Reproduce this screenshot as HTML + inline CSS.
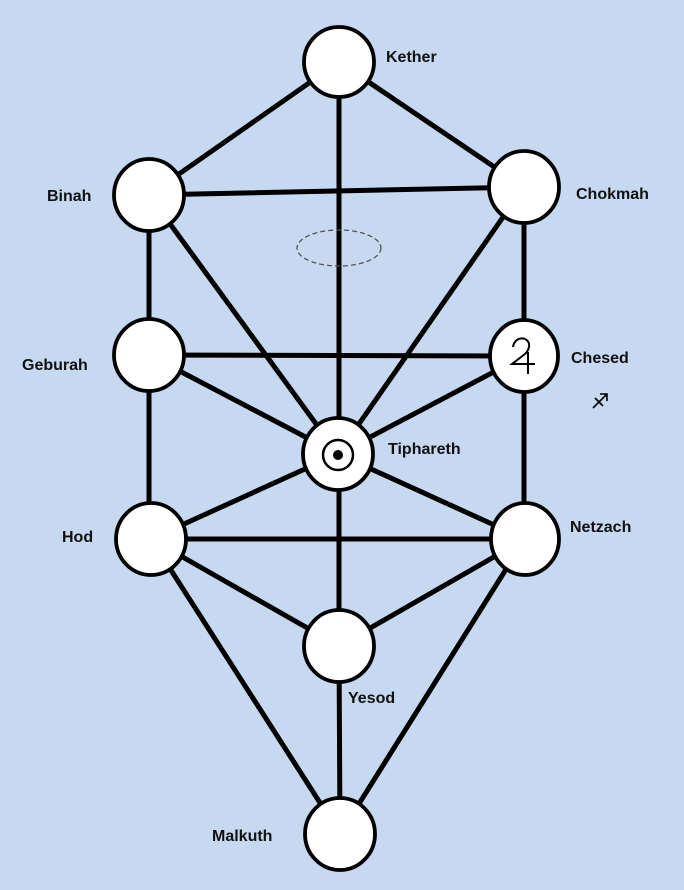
<!DOCTYPE html>
<html><head><meta charset="utf-8"><style>
html,body{margin:0;padding:0;background:#c6d9f0;}
svg{display:block}
text{font-family:"Liberation Sans",sans-serif;font-weight:bold;font-size:16px;fill:#111;}
</style></head><body>
<svg width="684" height="890" viewBox="0 0 684 890">
<rect width="684" height="890" fill="#c6d9f0"/>
<g stroke="#000" stroke-width="5" stroke-linecap="round">
<line x1="339" y1="62" x2="149" y2="195"/>
<line x1="339" y1="62" x2="524" y2="187"/>
<line x1="339" y1="62" x2="339" y2="646"/>
<line x1="149" y1="195" x2="524" y2="187"/>
<line x1="149" y1="195" x2="149" y2="539"/>
<line x1="524" y1="187" x2="524" y2="539"/>
<line x1="149" y1="195" x2="338" y2="454"/>
<line x1="524" y1="187" x2="338" y2="454"/>
<line x1="149" y1="355" x2="524" y2="356"/>
<line x1="149" y1="355" x2="338" y2="454"/>
<line x1="524" y1="356" x2="338" y2="454"/>
<line x1="338" y1="454" x2="151" y2="539"/>
<line x1="338" y1="454" x2="525" y2="539"/>
<line x1="151" y1="539" x2="525" y2="539"/>
<line x1="151" y1="539" x2="339" y2="646"/>
<line x1="525" y1="539" x2="339" y2="646"/>
<line x1="151" y1="539" x2="340" y2="834"/>
<line x1="525" y1="539" x2="340" y2="834"/>
<line x1="339" y1="646" x2="340" y2="834"/>
</g>
<ellipse cx="339" cy="248" rx="42" ry="18" fill="none" stroke="#555" stroke-width="1.3" stroke-dasharray="5,3"/>
<g fill="#fff" stroke="#000" stroke-width="3.8">
<ellipse cx="339" cy="62" rx="35" ry="35"/>
<ellipse cx="149" cy="195" rx="35" ry="36"/>
<ellipse cx="524" cy="187" rx="35" ry="36"/>
<ellipse cx="149" cy="355" rx="35" ry="36"/>
<ellipse cx="524" cy="356" rx="34" ry="36"/>
<ellipse cx="338" cy="454" rx="35" ry="36"/>
<ellipse cx="151" cy="539" rx="35" ry="36"/>
<ellipse cx="525" cy="539" rx="34" ry="36"/>
<ellipse cx="339" cy="646" rx="35" ry="36"/>
<ellipse cx="340" cy="834" rx="35" ry="36"/>
</g>
<circle cx="338" cy="455" r="15" fill="none" stroke="#000" stroke-width="2.5"/>
<circle cx="338" cy="455" r="5" fill="#000"/>
<path d="M513 347 C514 340 520 337 525 339 C531 342 530 349 525 354 L512 364 L535 364 M528 352 L528 374" fill="none" stroke="#000" stroke-width="2"/>
<path d="M593 408 L607 394 M600 394 L607 394 L607 401 M595 398 L603 406" fill="none" stroke="#000" stroke-width="1.6"/>
<text x="386" y="62">Kether</text>
<text x="47" y="201">Binah</text>
<text x="576" y="199">Chokmah</text>
<text x="22" y="370">Geburah</text>
<text x="571" y="363">Chesed</text>
<text x="388" y="454">Tiphareth</text>
<text x="62" y="542">Hod</text>
<text x="570" y="532">Netzach</text>
<text x="348" y="703">Yesod</text>
<text x="212" y="841">Malkuth</text>
</svg>
</body></html>
